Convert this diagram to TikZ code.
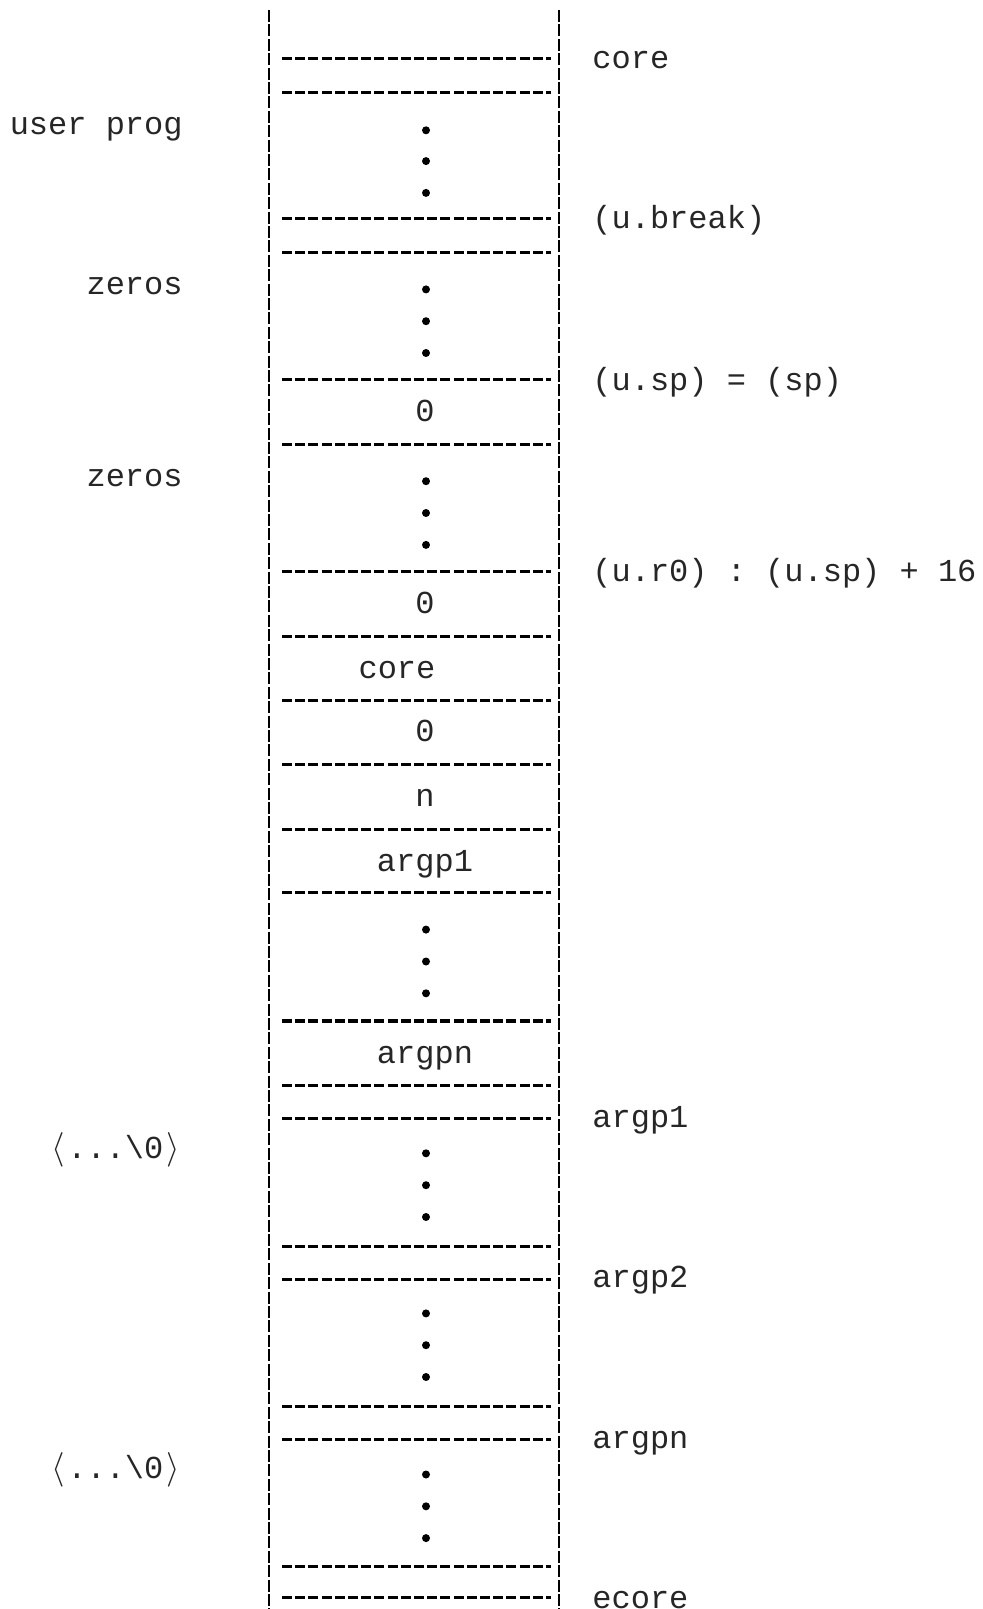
\documentclass[tikz,border=0pt]{standalone}
\usepackage{fontspec}
\setmonofont{Liberation Mono}
\usetikzlibrary{positioning}

\newcommand{\lt}{\makebox[0.6em]{$\langle$}}
\newcommand{\rt}{\makebox[0.6em]{$\rangle$}}

\begin{document}
\begin{tikzpicture}[
		x=0.5pt, y=-0.5pt,
		wall/.style={line width=1.2pt, dash pattern=on 6pt off 1.2pt},
		sep/.style={line width=1.6pt, dash pattern=on 5pt off 1.6pt},
		txt/.style={font=\ttfamily\fontsize{16}{18}\selectfont, text=black!85, inner sep=0pt, text height=1.5ex, text depth=.25ex, yshift=-2.5pt},
		addr/.style={txt, anchor=west},
		side/.style={txt, anchor=east},
		cell/.style={txt, anchor=center},
		dot/.style={circle, fill=black, inner sep=0pt, minimum size=4pt}
		]
		
		\useasboundingbox (0,0) rectangle (983,1609);
		
		% Define the two walls of the stack
		\coordinate (wlt) at (269,10);
		\coordinate (wlb) at (269,1609);
		\coordinate (wrt) at (559,10);
		\coordinate (wrb) at (559,1609);
		\draw[wall] (wlt) -- (wlb);
		\draw[wall] (wrt) -- (wrb);
		
		% Separators between words
		\foreach \y in {58.5, 92.3, 218.6, 252.4, 379.7, 444.3, 571.5, 636.2, 700.8, 764.4, 829.1, 892.7, 1021, 1085.6, 1118.4, 1246.7, 1279.5, 1406.8, 1439.6, 1566.8, 1597.6}
			\draw[sep] (282,\y) -- (551,\y);
		
		% Vertical ellipses
		\foreach \y in {130.3, 161.1, 192.9, 289.4, 321.2, 353, 481.2, 513, 544.9, 929.6, 961.5, 993.3, 1153.3, 1185.2, 1217, 1313.4, 1345.2, 1377, 1474.5, 1506.3, 1538.1}
			\node[dot] at (426,\y) {};
		
		% Contents of the cells
		\node[cell] (z1) at (425,411.5) {0};
		\node[cell] (z2) at (425,603.3) {0};
		\node[cell] (corew) at (397,668) {core};
		\node[cell] (z3) at (425,731.6) {0};
		\node[cell] (argc) at (425,796.3) {n};
		\node[cell] (firstp) at (425,861) {argp1};
		\node[cell] (lastp) at (425,1052.8) {argpn};
		
		% Addresses on the right
		\node[addr] (core) at (592,58.5) {core};
		\node[addr] (brk) at (592,218.6) {(u.break)};
		\node[addr] (sp) at (592,379.7) {(u.sp) = (sp)};
		\node[addr] (rzero) at (592,571.5) {(u.r0) : (u.sp) + 16};
		\node[addr] (p1) at (592,1117.4) {argp1};
		\node[addr] (p2) at (592,1277.5) {argp2};
		\node[addr] (pn) at (592,1437.6) {argpn};
		\node[addr] (ecore) at (592,1597.6) {ecore};
		
		% Regions on the left
		\node[side] (prog) at (183,124) {user prog};
		\node[side] (zeros1) at (183,284) {zeros};
		\node[side] (zeros2) at (183,476) {zeros};
		\node[side] (str1) at (183,1148.2) {\lt...\textbackslash0\rt};
		\node[side] (strn) at (183,1468.4) {\lt...\textbackslash0\rt};
		
	\end{tikzpicture}
\end{document}
